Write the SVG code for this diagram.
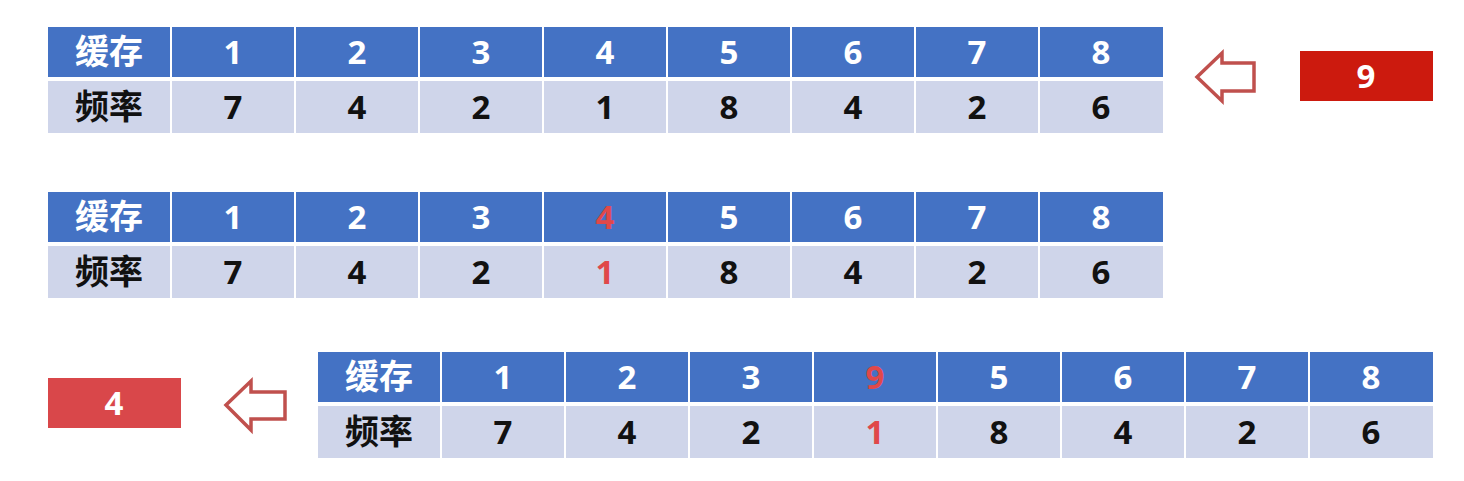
<svg xmlns="http://www.w3.org/2000/svg" width="1464" height="481" viewBox="0 0 1464 481">
<style>
.h{fill:#4472C4}
.d{fill:#CFD5EA}
.t{font-weight:bold;text-anchor:middle}
.cn{font-family:"Noto Sans CJK SC",sans-serif;font-size:34px}
.n{font-family:"Open Sans","Liberation Sans",sans-serif;font-size:33px}
.w{fill:#FFFFFF}
.k{fill:#111111}
.r{fill:#E0484A}
.arr{fill:#FFFFFF;stroke:#C0504D;stroke-width:3.5;stroke-linejoin:miter}
</style>
<rect width="1464" height="481" fill="#FFFFFF"/>
<defs>
<g id="rowbg">
<rect class="h" x="0" y="0" width="122" height="50"/>
<rect class="h" x="124" y="0" width="122" height="50"/>
<rect class="h" x="248" y="0" width="122" height="50"/>
<rect class="h" x="372" y="0" width="122" height="50"/>
<rect class="h" x="496" y="0" width="122" height="50"/>
<rect class="h" x="620" y="0" width="122" height="50"/>
<rect class="h" x="744" y="0" width="122" height="50"/>
<rect class="h" x="868" y="0" width="122" height="50"/>
<rect class="h" x="992" y="0" width="123" height="50"/>
<rect class="d" x="0" y="54" width="122" height="52"/>
<rect class="d" x="124" y="54" width="122" height="52"/>
<rect class="d" x="248" y="54" width="122" height="52"/>
<rect class="d" x="372" y="54" width="122" height="52"/>
<rect class="d" x="496" y="54" width="122" height="52"/>
<rect class="d" x="620" y="54" width="122" height="52"/>
<rect class="d" x="744" y="54" width="122" height="52"/>
<rect class="d" x="868" y="54" width="122" height="52"/>
<rect class="d" x="992" y="54" width="123" height="52"/>
<text class="t cn w" x="61" y="37">缓存</text>
<text class="t cn k" x="61" y="92">频率</text>
</g>
</defs>

<g id="table1" transform="translate(48,27)">
<use href="#rowbg"/>
<g class="t n w">
<text x="185" y="37">1</text><text x="309" y="37">2</text><text x="433" y="37">3</text><text x="557" y="37">4</text>
<text x="681" y="37">5</text><text x="805" y="37">6</text><text x="929" y="37">7</text><text x="1053" y="37">8</text>
</g>
<g class="t n k">
<text x="185" y="92">7</text><text x="309" y="92">4</text><text x="433" y="92">2</text><text x="557" y="92">1</text>
<text x="681" y="92">8</text><text x="805" y="92">4</text><text x="929" y="92">2</text><text x="1053" y="92">6</text>
</g>
</g>

<g id="table2" transform="translate(48,192)">
<use href="#rowbg"/>
<g class="t n w">
<text x="185" y="37">1</text><text x="309" y="37">2</text><text x="433" y="37">3</text><text class="r" x="557" y="37">4</text>
<text x="681" y="37">5</text><text x="805" y="37">6</text><text x="929" y="37">7</text><text x="1053" y="37">8</text>
</g>
<g class="t n k">
<text x="185" y="92">7</text><text x="309" y="92">4</text><text x="433" y="92">2</text><text class="r" x="557" y="92">1</text>
<text x="681" y="92">8</text><text x="805" y="92">4</text><text x="929" y="92">2</text><text x="1053" y="92">6</text>
</g>
</g>

<g id="table3" transform="translate(318,352)">
<use href="#rowbg"/>
<g class="t n w">
<text x="185" y="37">1</text><text x="309" y="37">2</text><text x="433" y="37">3</text><text class="r" x="557" y="37">9</text>
<text x="681" y="37">5</text><text x="805" y="37">6</text><text x="929" y="37">7</text><text x="1053" y="37">8</text>
</g>
<g class="t n k">
<text x="185" y="92">7</text><text x="309" y="92">4</text><text x="433" y="92">2</text><text class="r" x="557" y="92">1</text>
<text x="681" y="92">8</text><text x="805" y="92">4</text><text x="929" y="92">2</text><text x="1053" y="92">6</text>
</g>
</g>

<g id="new-item">
<rect x="1300" y="51" width="133" height="50" fill="#CC1A0E"/>
<text class="t n w" x="1366" y="88">9</text>
</g>

<g id="evicted-item">
<rect x="48" y="378" width="133" height="50" fill="#D9474A"/>
<text class="t n w" x="114" y="415">4</text>
</g>

<g id="connectors">
<polygon class="arr" points="1197,77 1222,53 1222,63 1254,63 1254,91 1222,91 1222,101"/>
<polygon class="arr" points="226,405 251,381 251,392 285,392 285,419 251,419 251,430"/>
</g>
</svg>
